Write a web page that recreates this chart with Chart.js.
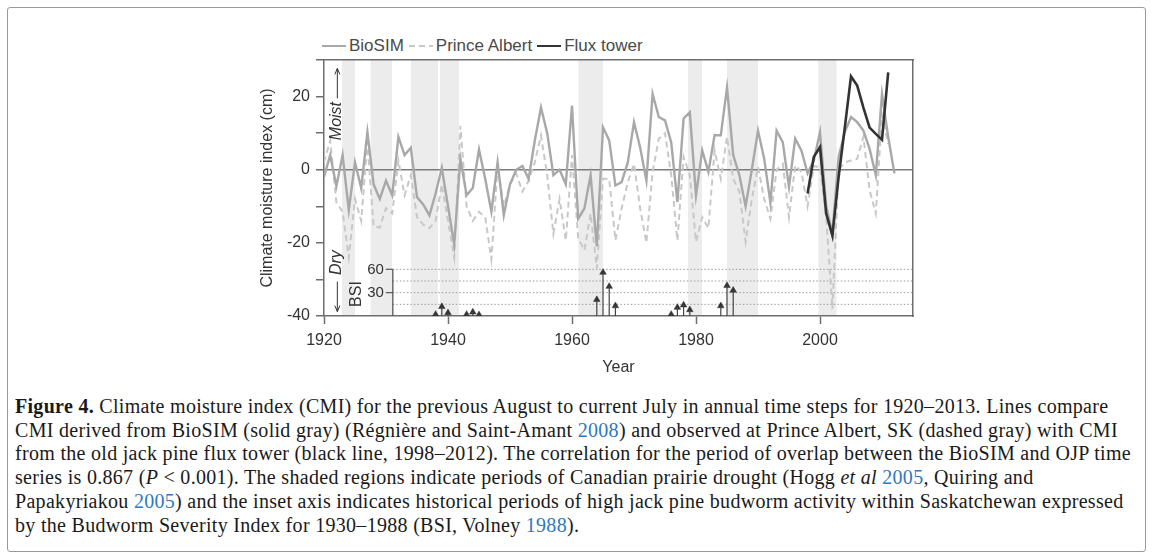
<!DOCTYPE html>
<html>
<head>
<meta charset="utf-8">
<script src="https://cdn.jsdelivr.net/npm/chart.js@4.4.0/dist/chart.umd.min.js"></script>
<style>
  html, body { margin: 0; padding: 0; background: #fff; }
  body { width: 1153px; height: 559px; position: relative; overflow: hidden; font-family: 'Liberation Sans', Arial, sans-serif; }
  #frame { position: absolute; left: 7px; top: 7px; width: 1137px; height: 543px; border: 1px solid #9a9a9a; border-radius: 3px; }
  #wrap { position: absolute; left: 200px; top: 20px; width: 740px; height: 370px; }
  #legend { position: absolute; left: 322px; top: 36px; display: flex; align-items: center; font-size: 17px; color: #4a4a4a; white-space: nowrap; }
  #legend .item { display: flex; align-items: center; margin-right: 5px; }
  #legend .sample { display: inline-block; width: 24px; height: 2px; margin-right: 3px; }
  #caption { position: absolute; left: 15px; top: 395px; font-family: 'Liberation Serif', 'Times New Roman', serif; font-size: 20px; letter-spacing: 0.3px; line-height: 23.7px; color: #1a1a1a; white-space: nowrap; }
  #caption .ref { color: #2f78bf; }
</style>
</head>
<body>
<div id="frame"></div>
<div id="legend"></div>
<div id="wrap"><canvas id="cmi" width="740" height="370"></canvas></div>
<div id="caption">
  <div><b>Figure 4.</b> Climate moisture index (CMI) for the previous August to current July in annual time steps for 1920–2013. Lines compare</div>
  <div>CMI derived from BioSIM (solid gray) (Régnière and Saint-Amant <span class="ref">2008</span>) and observed at Prince Albert, SK (dashed gray) with CMI</div>
  <div>from the old jack pine flux tower (black line, 1998–2012). The correlation for the period of overlap between the BioSIM and OJP time</div>
  <div>series is 0.867 (<i>P</i> &lt; 0.001). The shaded regions indicate periods of Canadian prairie drought (Hogg <i>et al</i> <span class="ref">2005</span>, Quiring and</div>
  <div>Papakyriakou <span class="ref">2005</span>) and the inset axis indicates historical periods of high jack pine budworm activity within Saskatchewan expressed</div>
  <div>by the Budworm Severity Index for 1930–1988 (BSI, Volney <span class="ref">1988</span>).</div>
</div>
<script>
// CMI (cm), one value per year
const bioStart = 1920;
const bioSIM = [
  -2, 4, -4.5, 4, -11, 2, -5, 10.3, -4, -8,
  -3, -7, 9, 4, 6, -7.5, -9.5, -12.5, -6.5, 0.5,
  -10, -20.5, 3, -7, -5, 5.5, -2.5, -11.5, 2, -12.5,
  -4, 0, 1, -2.5, 8, 17, 10, -1.5, 0, -4,
  17.5, -13.4, -10.6, -1.5, -21, 11.6, 8, -4.3, -3.4, 2,
  13, 6, -3, 20.7, 14.4, 13.5, 7.5, -8.8, 14, 15.7,
  -7, 5.3, -0.6, 9.5, 9.4, 22.5, 4, -1.5, -10, 0,
  10.7, 3, -9, 10.7, 7.5, -4.7, 8.5, 5.3, -1, 2.5,
  10.3, -10, -17.5, 3.5, 10.3, 14.4, 13, 10.7, 5.7, -1.5,
  20.7, 9, -1
];
const paStart = 1920;
const princeAlbert = [
  2, 8, -9, -11.5, -24, -8, -14, 7.5, -15.5, -15.8,
  -10.5, -12, 2.5, -7, -1.5, -13, -15, -16, -14, -4,
  -14, -24, 12, -10, -14, -11.5, -13, -24.5, 1, -10,
  -4, -1, -6, -3, 2, 9.4, -1.5, -17.5, -8, -19.3,
  4, -18.8, -22, -12, -27, -2.5, -2.5, -19.3, -10.6, -3.4,
  1.6, -10.6, -20, -0.6, 8.5, 10, -1.5, -19.3, 3.5, -1.5,
  -19.7, -13, -16, 5.3, -2.5, 9, -2.5, -6, -19.7, -8,
  0.7, -8, -13.4, 0, 1.6, -13, 1.2, -0.6, -10, 1,
  0.7, -13, -38, 0, 2, 2.5, 3, 9, -5.6, -12,
  15, 7
];
const fluxStart = 1998;
const fluxTower = [-6.5, 3.5, 6.2, -12, -18, -2, 11.5, 25.5, 23, 17, 11.5, 9.8, 8.2, 26.6];

// Budworm Severity Index (inset axis)
const bsiYears  = [1938, 1939, 1940, 1943, 1944, 1945, 1964, 1965, 1966, 1967, 1976, 1977, 1978, 1979, 1984, 1985, 1986];
const bsiValues = [2, 12, 4, 2, 5, 1.5, 21, 56, 38, 13, 2, 11, 14, 8, 13, 39, 33];

// Canadian prairie drought periods [start, end]
const droughts = [[1922.9, 1925], [1927.5, 1931], [1934, 1938.4], [1938.7, 1941.8], [1961, 1965], [1978.7, 1981], [1985, 1990], [1999.7, 2002.7]];

const xTicks = [1920, 1940, 1960, 1980, 2000];
const yTicks = [-40, -30, -20, -10, 0, 10, 20, 30];
const yTickLabels = ['-40', '', '-20', '', '0', '', '20', ''];
const bsiTicks = [30, 60];
const bsiGuides = [15, 30, 45, 60];
const bsiAxisYear = 1931.1;

const series = (start, vals) => vals.map((v, i) => ({ x: start + i, y: v }));

const shade = droughts.map(([a, b]) => ({
  data: [{ x: a, y: 30 }, { x: b, y: 30 }],
  borderWidth: 0, backgroundColor: '#ececec', fill: 'start', pointRadius: 0, order: 20
}));

const guides = bsiGuides.map((g) => ({
  data: [{ x: bsiAxisYear, y: g }, { x: 2015, y: g }],
  yAxisID: 'yBSI', borderColor: '#9a9a9a', borderWidth: 1, borderDash: [1.5, 2], pointRadius: 0, order: 9
}));

const datasets = [
  { label: 'BioSIM', data: series(bioStart, bioSIM), borderColor: '#a8a8a8', borderWidth: 2.4, order: 2, legend: 'solid' },
  { label: 'Prince Albert', data: series(paStart, princeAlbert), borderColor: '#c8c8c8', borderWidth: 2, borderDash: [6, 4], order: 3, legend: 'dash' },
  { label: 'Flux tower', data: series(fluxStart, fluxTower), borderColor: '#333', borderWidth: 2.6, order: 1, legend: 'solid' },
  {
    data: bsiYears.flatMap((yr, i) => [{ x: yr, y: 0 }, { x: yr, y: bsiValues[i] }, { x: yr, y: null }]),
    yAxisID: 'yBSI', borderColor: '#444', borderWidth: 1.2, pointRadius: 0, order: 4
  },
  {
    data: bsiYears.map((yr, i) => ({ x: yr, y: bsiValues[i] })),
    yAxisID: 'yBSI', showLine: false, pointStyle: 'triangle', pointRadius: 3.8,
    pointBackgroundColor: '#333', pointBorderColor: '#333', pointBorderWidth: 0.5, order: 4
  },
  {
    data: [{ x: bsiAxisYear, y: 0 }, { x: bsiAxisYear, y: 60 }],
    yAxisID: 'yBSI', borderColor: '#555', borderWidth: 1.3, pointRadius: 0, order: 5
  },
  ...guides,
  ...shade
];

const frameColor = '#6e6e6e';
const tickFont = { family: "'Liberation Sans', Arial, sans-serif", size: 16 };

// Moist / Dry / BSI labels and the inset axis ticks
const notes = {
  id: 'notes',
  afterDatasetsDraw(chart) {
    const { ctx, scales: { x, y, yBSI } } = chart;
    const vtext = (txt, xv, yv, font) => {
      ctx.save();
      ctx.translate(x.getPixelForValue(xv), y.getPixelForValue(yv));
      ctx.rotate(-Math.PI / 2);
      ctx.font = font;
      ctx.fillStyle = '#333';
      ctx.textAlign = 'center';
      ctx.textBaseline = 'middle';
      ctx.fillText(txt, 0, 0);
      ctx.restore();
    };
    const arrow = (xv, y0, y1) => {
      const px = x.getPixelForValue(xv);
      const a = y.getPixelForValue(y0), b = y.getPixelForValue(y1);
      const d = b < a ? 1 : -1;
      ctx.save();
      ctx.strokeStyle = '#333';
      ctx.lineWidth = 1;
      ctx.beginPath();
      ctx.moveTo(px, a); ctx.lineTo(px, b);
      ctx.moveTo(px - 2.5, b + d * 6); ctx.lineTo(px, b); ctx.lineTo(px + 2.5, b + d * 6);
      ctx.stroke();
      ctx.restore();
    };
    vtext('Moist', 1922.05, 13.3, "italic 16px 'Liberation Sans', Arial, sans-serif");
    arrow(1922.15, 19.5, 27.7);
    vtext('Dry', 1922.05, -25.4, "italic 16px 'Liberation Sans', Arial, sans-serif");
    arrow(1922.15, -30.6, -38.8);
    vtext('BSI', 1925.2, -34, "16px 'Liberation Sans', Arial, sans-serif");

    const ax = x.getPixelForValue(bsiAxisYear);
    ctx.save();
    ctx.strokeStyle = '#555';
    ctx.lineWidth = 1.2;
    ctx.fillStyle = '#333';
    ctx.font = "15px 'Liberation Sans', Arial, sans-serif";
    ctx.textAlign = 'right';
    ctx.textBaseline = 'middle';
    bsiTicks.forEach((v) => {
      const py = yBSI.getPixelForValue(v);
      ctx.beginPath();
      ctx.moveTo(ax - 7, py); ctx.lineTo(ax, py);
      ctx.stroke();
      ctx.fillText(String(v), ax - 9, py + 0.5);
    });
    ctx.restore();
  }
};

const chart = new Chart(document.getElementById('cmi'), {
  type: 'line',
  data: { datasets },
  options: {
    responsive: false,
    animation: false,
    layout: { padding: { top: 40, right: 27, left: 0, bottom: 0 } },
    elements: { point: { radius: 0 }, line: { tension: 0 } },
    plugins: { legend: { display: false }, tooltip: { enabled: false }, filler: { drawTime: 'beforeDraw' } },
    scales: {
      x: {
        type: 'linear', position: 'bottom', min: 1920, max: 2015,
        afterBuildTicks: (s) => { s.ticks = xTicks.map((v) => ({ value: v })); },
        afterFit: (s) => { s.height = 74; },
        ticks: { callback: (v) => String(v), font: tickFont, color: '#333', padding: 7, maxRotation: 0, autoSkip: false },
        grid: { drawOnChartArea: false, tickLength: 8, tickColor: frameColor, tickWidth: 1.5 },
        border: { color: frameColor, width: 1.5 },
        title: { display: true, text: 'Year', font: tickFont, color: '#333', padding: { top: 0, bottom: 13 } }
      },
      xTop: {
        type: 'linear', position: 'top',
        afterFit: (s) => { s.height = 0; },
        ticks: { display: false }, grid: { display: false },
        border: { color: frameColor, width: 1.5 }
      },
      y: {
        type: 'linear', position: 'left', min: -40, max: 30,
        afterBuildTicks: (s) => { s.ticks = yTicks.map((v) => ({ value: v })); },
        afterFit: (s) => { s.width = 124; },
        ticks: { callback: (v, i) => yTickLabels[i], font: tickFont, color: '#333', padding: 6, autoSkip: false },
        grid: {
          color: (c) => (c.tick && c.tick.value === 0 ? '#7c7c7c' : 'rgba(0,0,0,0)'),
          lineWidth: 1.5, tickLength: 8, tickColor: frameColor, tickWidth: 1.5
        },
        border: { color: frameColor, width: 1.5 },
        title: { display: true, text: 'Climate moisture index (cm)', font: tickFont, color: '#333', padding: { top: 58, bottom: 0 } }
      },
      yRight: {
        type: 'linear', position: 'right',
        afterFit: (s) => { s.width = 0; },
        ticks: { display: false }, grid: { display: false },
        border: { color: frameColor, width: 1.5 }
      },
      yBSI: { type: 'linear', position: 'left', display: false, min: 0, max: 329 }
    }
  },
  plugins: [notes]
});

// legend for the three CMI series
const legendEl = document.getElementById('legend');
chart.data.datasets.filter((d) => d.legend).forEach((d) => {
  const item = document.createElement('span');
  item.className = 'item';
  const sample = document.createElement('span');
  sample.className = 'sample';
  sample.style.background = d.legend === 'dash'
    ? `repeating-linear-gradient(90deg, ${d.borderColor} 0 6px, transparent 6px 10px)`
    : d.borderColor;
  const text = document.createElement('span');
  text.textContent = d.label;
  item.append(sample, text);
  legendEl.append(item);
});
</script>
</body>
</html>
